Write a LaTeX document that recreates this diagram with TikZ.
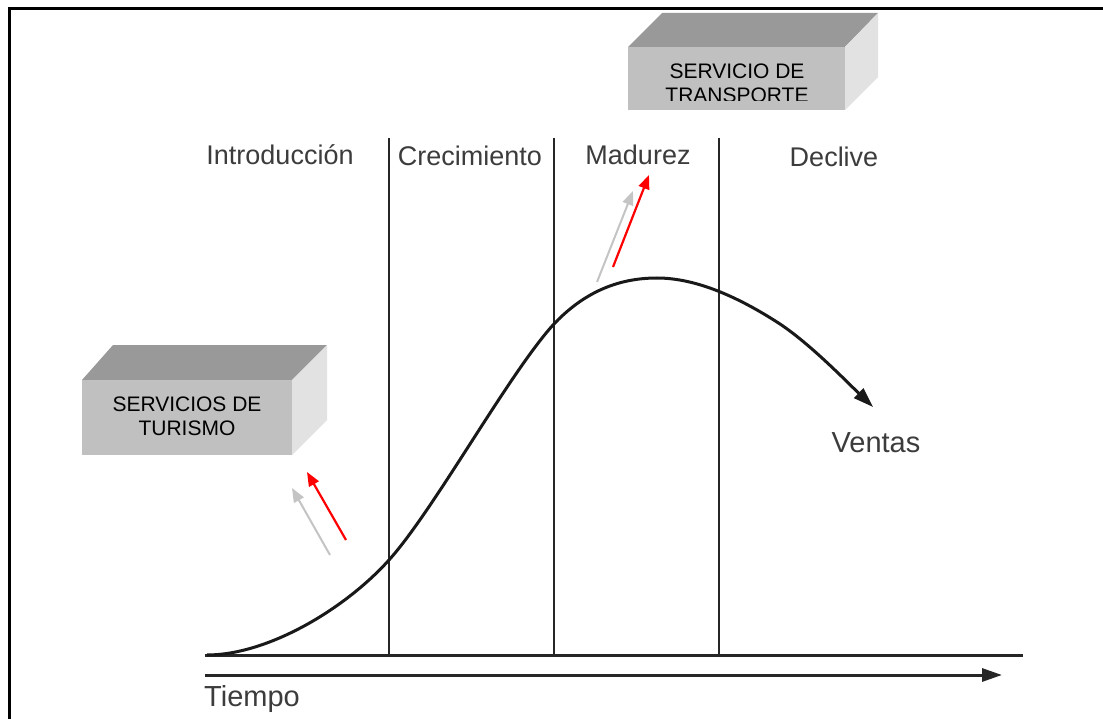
\documentclass[tikz,border=0pt]{standalone}
\usepackage{fontspec}
\setmainfont{Liberation Sans}
\usetikzlibrary{arrows.meta}
\definecolor{txt}{HTML}{3C3C3C}
\definecolor{boxtop}{HTML}{999999}
\definecolor{boxfront}{HTML}{C0C0C0}
\definecolor{boxside}{HTML}{E2E2E2}
\definecolor{pale}{HTML}{C4C4C4}
\definecolor{hotred}{HTML}{FF0000}
\begin{document}
\begin{tikzpicture}[x=1pt,y=-1pt,
  phase/.style={anchor=base, inner sep=0pt, text=txt, font=\fontsize{27}{32}\selectfont},
  biglabel/.style={anchor=base, inner sep=0pt, text=txt, font=\fontsize{29}{34}\selectfont},
  boxtext/.style={align=center, inner sep=0pt, text=black, font=\fontsize{21}{24}\selectfont},
  divider/.style={line width=2.3pt, black!85},
  axisline/.style={line width=3pt, black!85},
  redarrow/.style={line width=2.2pt, hotred, -{Triangle[length=14pt,width=11pt]}},
  grayarrow/.style={line width=2pt, pale, -{Triangle[length=14pt,width=11pt]}},
  frameline/.style={line width=3pt, black}
]
\useasboundingbox (0,0) rectangle (1103,719);
\fill[white] (0,0) rectangle (1103,719);
% frame
\draw[frameline] (9,719) -- (9,9) -- (1103,9);

% top box
\fill[boxtop] (628,47) -- (662,13) -- (878,13) -- (845,47) -- cycle;
\fill[boxside] (845,47) -- (878,13) -- (878,77) -- (845,110) -- cycle;
\fill[boxfront] (628,47) rectangle (845,110);
\begin{scope}
  \clip (628,47) rectangle (845,101);
  \node[boxtext] (transporte) at (737,83) {SERVICIO DE\\TRANSPORTE};
\end{scope}

% left box
\fill[boxtop] (82,380) -- (113,345) -- (327,345) -- (292,380) -- cycle;
\fill[boxside] (292,380) -- (327,345) -- (327,420) -- (292,455) -- cycle;
\fill[boxfront] (82,380) rectangle (292,455);
\node[boxtext] (turismo) at (187,416) {SERVICIOS DE\\TURISMO};

% phase dividers
\coordinate (d1t) at (389,138); \coordinate (d1b) at (389,655);
\coordinate (d2t) at (554,138); \coordinate (d2b) at (554,655);
\coordinate (d3t) at (719,138); \coordinate (d3b) at (719,655);
\draw[divider] (d1t) -- (d1b);
\draw[divider] (d2t) -- (d2b);
\draw[divider] (d3t) -- (d3b);

% baseline and time axis
\coordinate (b0) at (205,655); \coordinate (b1) at (1023,655);
\draw[axisline] (b0) -- (b1);
\coordinate (t0) at (205,675); \coordinate (t1) at (1002,675);
\draw[axisline, -{Triangle[length=20pt,width=13pt]}] (t0) -- (t1);

% labels
\node[phase] (intro) at (280,165) {Introducción};
\node[phase] (crec) at (470,166) {Crecimiento};
\node[phase] (mad) at (638,165) {Madurez};
\node[phase] (decl) at (834,167) {Declive};
\node[biglabel] (ventas) at (876,452) {Ventas};
\node[biglabel, anchor=base west] (tiempo) at (204,706) {Tiempo};

% sales curve
\coordinate (c0) at (207,655);
\coordinate (c1) at (389,560);
\coordinate (c2) at (553,325);
\coordinate (c3) at (657,278);
\coordinate (c4) at (780,324);
\coordinate (c5) at (873,407);
\draw[line width=3pt, black!90, -{Triangle[length=20pt,width=13pt]}]
  (c0) .. controls (267,655) and (344,610) .. (c1)
       .. controls (434,510) and (508,375) .. (c2)
       .. controls (583,293) and (617,278) .. (c3)
       .. controls (697,278) and (740,298) .. (c4)
       .. controls (810,344) and (845,380) .. (c5);

% arrows near left box
\coordinate (g1s) at (330,555); \coordinate (g1e) at (292,488);
\coordinate (r1s) at (346,540); \coordinate (r1e) at (307,472);
\draw[grayarrow] (g1s) -- (g1e);
\draw[redarrow] (r1s) -- (r1e);

% arrows near Madurez
\coordinate (g2s) at (597,282); \coordinate (g2e) at (633,191);
\coordinate (r2s) at (613,267); \coordinate (r2e) at (649,175);
\draw[grayarrow] (g2s) -- (g2e);
\draw[redarrow] (r2s) -- (r2e);
\end{tikzpicture}
\end{document}
